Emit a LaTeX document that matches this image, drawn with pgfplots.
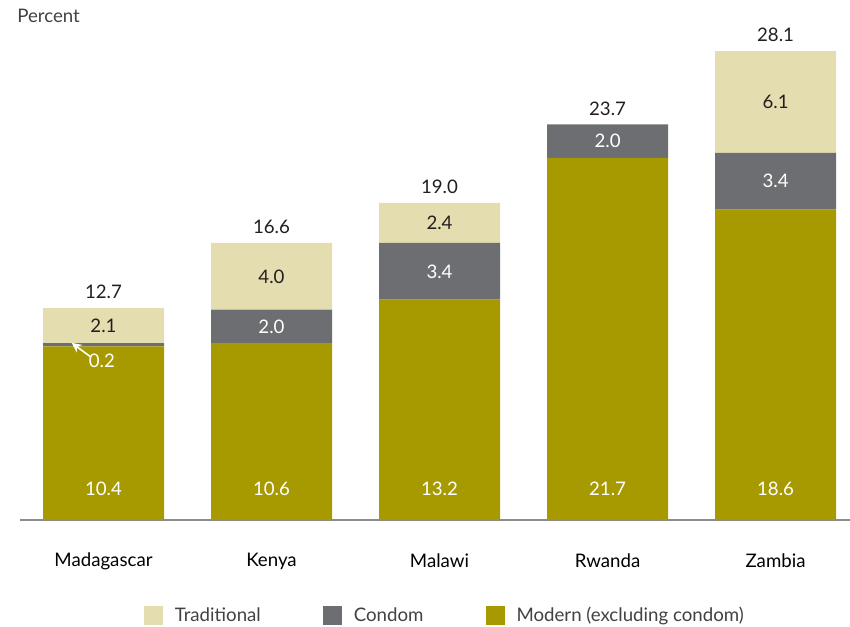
\documentclass[border=0pt]{standalone}
\usepackage{pgfplots}
\pgfplotsset{compat=1.18}
\usepackage{fontspec}
\setmainfont{Lato}
\usetikzlibrary{arrows.meta}
\definecolor{trad}{HTML}{E4DDB0}
\definecolor{cond}{HTML}{6D6E72}
\definecolor{modern}{HTML}{A69A00}
\definecolor{txt}{HTML}{231F20}

\newcommand{\lab}{\fontsize{14}{16}\selectfont}

\begin{document}
\begin{tikzpicture}
\begin{axis}[
    at={(0,0)}, anchor=south west,
    scale only axis,
    width=624pt, height=375.5pt,
    ybar stacked,
    bar width=90.75pt,
    xmin=-0.497, xmax=4.455,
    ymin=0, ymax=30,
    axis x line*=bottom,
    axis y line=none,
    x axis line style={draw=black!45, line width=1pt},
    xtick={0,1,2,3,4},
    xticklabels={Madagascar,Kenya,Malawi,Rwanda,Zambia},
    xtick style={draw=none},
    xticklabel style={anchor=center, yshift=-30.75pt, font=\lab, text=black},
    reverse legend,
    legend columns=-1,
    legend style={at={(0.5114,-0.19)}, anchor=center, draw=none,
        font=\lab, text=txt!85,
        /tikz/every odd column/.append style={column sep=6.5pt},
        /tikz/every even column/.append style={column sep=45pt}},
    clip=false,
    after end axis/.code={
      % modern labels (near bottom)
      \node[text=white, font=\lab] at (axis cs:0,1.86) {10.4};
      \node[text=white, font=\lab] at (axis cs:1,1.86) {10.6};
      \node[text=white, font=\lab] at (axis cs:2,1.86) {13.2};
      \node[text=white, font=\lab] at (axis cs:3,1.86) {21.7};
      \node[text=white, font=\lab] at (axis cs:4,1.86) {18.6};
      % condom labels
      \node[text=white, font=\lab] at (axis cs:1,11.6) {2.0};
      \node[text=white, font=\lab] at (axis cs:2,14.9) {3.4};
      \node[text=white, font=\lab] at (axis cs:3,22.7) {2.0};
      \node[text=white, font=\lab] at (axis cs:4,20.3) {3.4};
      % traditional labels
      \node[text=txt, font=\lab] at (axis cs:0,11.65) {2.1};
      \node[text=txt, font=\lab] at (axis cs:1,14.6) {4.0};
      \node[text=txt, font=\lab] at (axis cs:2,17.8) {2.4};
      \node[text=txt, font=\lab] at (axis cs:4,25.05) {6.1};
      % small condom value for Madagascar
      \node[text=white, font=\lab] at (axis cs:-0.01,9.55) {0.2};
      \draw[white, line width=1.2pt, -{Stealth[length=7.5pt,width=7pt]}]
        (axis cs:-0.08,9.8) -- (axis cs:-0.19,10.62);
    },
]
\addplot[fill=modern, draw=none,
    legend image code/.code={\fill[modern] (0pt,-7.125pt) rectangle (14.25pt,7.125pt);}]
    coordinates {(0,10.4) (1,10.6) (2,13.2) (3,21.7) (4,18.6)};
\addlegendentry{Modern (excluding condom)}
\addplot[fill=cond, draw=none,
    legend image code/.code={\fill[cond] (0pt,-7.125pt) rectangle (14.25pt,7.125pt);}]
    coordinates {(0,0.2) (1,2.0) (2,3.4) (3,2.0) (4,3.4)};
\addlegendentry{Condom}
\addplot[fill=trad, draw=none,
    legend image code/.code={\fill[trad] (0pt,-7.125pt) rectangle (14.25pt,7.125pt);}]
    coordinates {(0,2.1) (1,4.0) (2,2.4) (3,0) (4,6.1)};
\addlegendentry{Traditional}

% totals
\node[text=txt, font=\lab] at (axis cs:0,13.65) {12.7};
\node[text=txt, font=\lab] at (axis cs:1,17.55) {16.6};
\node[text=txt, font=\lab] at (axis cs:2,19.95) {19.0};
\node[text=txt, font=\lab] at (axis cs:3,24.65) {23.7};
\node[text=txt, font=\lab] at (axis cs:4,29.05) {28.1};
\end{axis}
\node[anchor=west, inner sep=0, text=txt!85, font=\lab] at (-2.25pt,378pt) {Percent};
\pgfresetboundingbox
\path (-15pt,-79.5pt) rectangle (622.5pt,390pt);
\end{tikzpicture}
\end{document}
